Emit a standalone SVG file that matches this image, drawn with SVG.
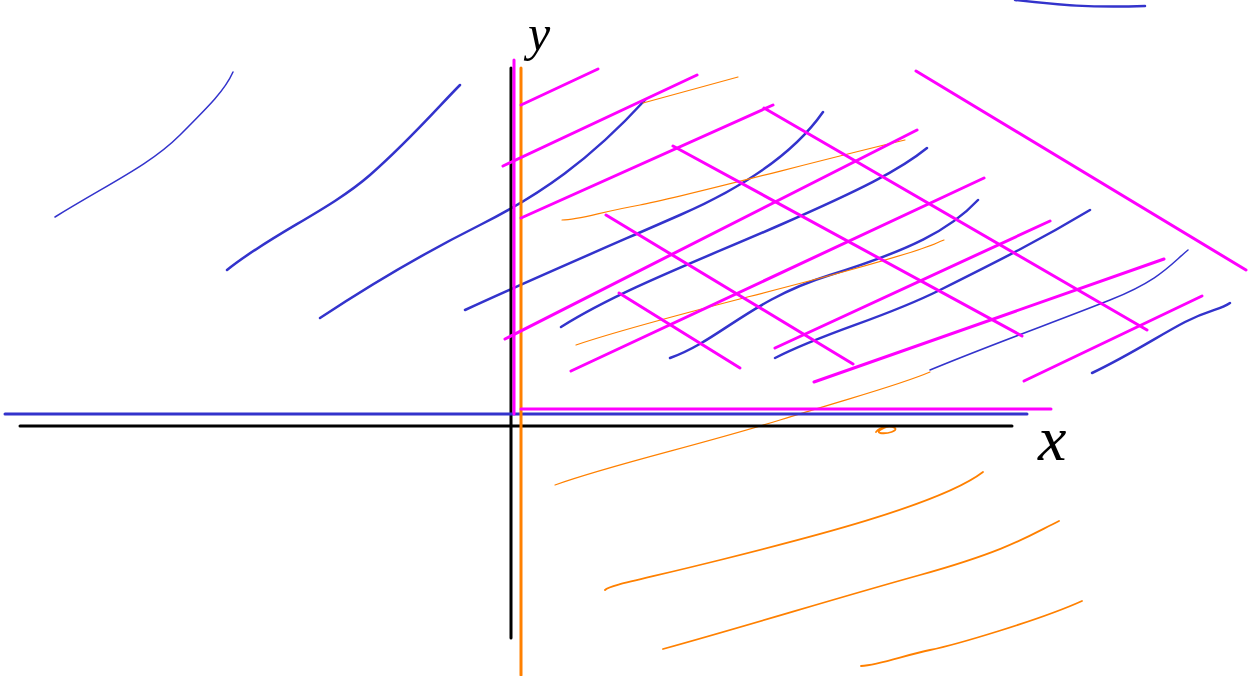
<svg xmlns="http://www.w3.org/2000/svg" width="1250" height="676" viewBox="0 0 1250 676">
<style>
.k{stroke:#000;stroke-width:3;fill:none;stroke-linecap:round}
.m{stroke:#ff00ff;stroke-width:3;fill:none;stroke-linecap:round}
.b{stroke:#3333cc;stroke-width:2.5;fill:none;stroke-linecap:round}
.bt{stroke:#3333cc;stroke-width:1.5;fill:none;stroke-linecap:round}
.o{stroke:#ff8000;stroke-width:1.8;fill:none;stroke-linecap:round}
.ot{stroke:#ff8000;stroke-width:1.2;fill:none;stroke-linecap:round}
.lbl{font-family:"Liberation Serif",serif;font-style:italic;fill:#000}
</style>
<rect width="1250" height="676" fill="#fff"/>
<g id="blue-strokes">
<path class="bt" d="M55,217 C110,183 150,165 180,135 S225,90 233,72"/>
<path class="b" d="M227,270 C270,235 330,210 370,175 S440,105 460,85"/>
<path class="b" d="M320,318 C370,285 420,255 480,225 S590,160 645,100"/>
<path class="b" d="M465,310 C530,280 600,250 680,215 S800,145 823,112"/>
<path class="b" d="M561,327 C620,290 700,260 780,225 S900,170 927,148"/>
<path class="b" d="M670,358 C720,340 750,300 830,275 S950,230 978,200"/>
<path class="b" d="M775,358 C830,330 880,320 940,290 S1040,240 1090,210"/>
<path class="bt" d="M930,370 C990,345 1060,320 1110,300 S1170,265 1188,250"/>
<path class="b" d="M1092,373 C1130,355 1160,335 1185,322 S1220,310 1230,303"/>
<path class="b" d="M1015,0 C1060,5 1090,8 1145,6"/>
</g>
<g id="orange-strokes">
<path class="ot" d="M643,103 L738,77"/>
<path class="ot" d="M562,220 C580,220 600,212 640,205 S820,160 905,140"/>
<path class="ot" d="M576,345 C650,320 760,295 850,270 S930,245 944,240"/>
<path class="ot" d="M555,485 C610,465 700,445 780,420 S900,385 930,372"/>
<path class="o" d="M605,590 C610,585 640,580 720,560 S940,505 983,472"/>
<path class="o" d="M663,649 C750,625 830,600 920,575 S1030,535 1059,521"/>
<path class="o" d="M861,666 C880,665 905,655 930,650 S1040,620 1082,601"/>
<path class="o" d="M876,432 C880,427 890,425 895,428 C898,431 888,434 880,433 C876,432 882,428 890,426"/>
</g>
<g id="axes">
<line class="k" x1="20" y1="426" x2="1012" y2="426"/>
<line class="k" x1="511" y1="68" x2="511" y2="638"/>
<line class="b" x1="5" y1="414" x2="1027" y2="414" style="stroke-width:3"/>
<line class="m" x1="514" y1="60" x2="514" y2="414"/>
<line class="o" x1="521" y1="68" x2="521" y2="675" style="stroke-width:3"/>
<line class="m" x1="521" y1="409" x2="1051" y2="409"/>
</g>
<g id="magenta-hatch">
<line class="m" x1="521" y1="105" x2="598" y2="69"/>
<line class="m" x1="503" y1="166" x2="697" y2="75"/>
<line class="m" x1="521" y1="218" x2="773" y2="105"/>
<line class="m" x1="505" y1="339" x2="917" y2="130"/>
<line class="m" x1="571" y1="371" x2="984" y2="178"/>
<line class="m" x1="775" y1="348" x2="1050" y2="221"/>
<line class="m" x1="814" y1="382" x2="1164" y2="259"/>
<line class="m" x1="1024" y1="381" x2="1202" y2="296"/>
<line class="m" x1="916" y1="71" x2="1246" y2="270"/>
<line class="m" x1="764" y1="108" x2="1147" y2="330"/>
<line class="m" x1="673" y1="146" x2="1022" y2="336"/>
<line class="m" x1="606" y1="215" x2="853" y2="364"/>
<line class="m" x1="619" y1="293" x2="740" y2="368"/>
</g>
<g id="labels">
<text class="lbl" x="528" y="50" font-size="50">y</text>
<text class="lbl" x="1038" y="460" font-size="64">x</text>
</g>
</svg>
